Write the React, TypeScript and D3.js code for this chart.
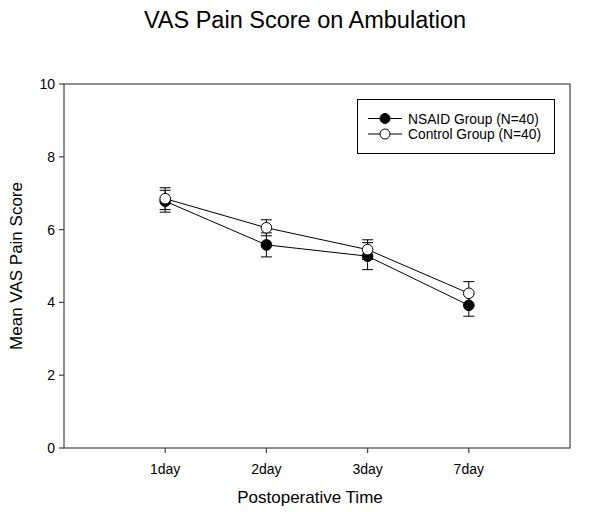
import React from "react";
import * as d3 from "d3";

const categories = ["1day", "2day", "3day", "7day"];
const nsaidMean = [6.78, 5.58, 5.27, 3.92];
const nsaidErr = [0.3, 0.33, 0.37, 0.3];
const controlMean = [6.85, 6.05, 5.45, 4.25];
const controlErr = [0.3, 0.22, 0.27, 0.32];
const yTicks = [0, 2, 4, 6, 8, 10];
const seriesNames = ["NSAID Group (N=40)", "Control Group (N=40)"];

const W = 600, H = 512;
const left = 64, right = 570, top = 84, bottom = 448;
const font = "Arial, 'Liberation Sans', sans-serif";

export default function App() {
  const x = d3.scaleLinear().domain([0, 5]).range([left, right]);
  const y = d3.scaleLinear().domain([0, 10]).range([bottom, top]);
  const line = d3.line<number>().x((_, i) => x(i + 1)).y((d) => y(d));
  const series = [
    { mean: nsaidMean, err: nsaidErr, fill: "#000", name: seriesNames[0] },
    { mean: controlMean, err: controlErr, fill: "#fff", name: seriesNames[1] },
  ];
  const capW = 5.5;
  return (
    <svg width={W} height={H} style={{ position: "absolute", left: 0, top: 0, background: "#fff" }}>
      <rect x={0} y={0} width={W} height={H} fill="#fff" />
      <text x={305} y={28} textAnchor="middle" fontFamily={font} fontSize={23.5} fill="#000">
        VAS Pain Score on Ambulation
      </text>
      <rect x={left} y={top} width={right - left} height={bottom - top} fill="none" stroke="#444" strokeWidth={1.2} />
      {yTicks.map((t) => (
        <g key={t}>
          <line x1={left - 5} x2={left} y1={y(t)} y2={y(t)} stroke="#444" strokeWidth={1.2} />
          <text x={left - 9} y={y(t) + 5} textAnchor="end" fontFamily={font} fontSize={14} fill="#000">{t}</text>
        </g>
      ))}
      {categories.map((c, i) => (
        <g key={c}>
          <line x1={x(i + 1)} x2={x(i + 1)} y1={bottom} y2={bottom + 5} stroke="#444" strokeWidth={1.2} />
          <text x={x(i + 1)} y={bottom + 26} textAnchor="middle" fontFamily={font} fontSize={14} fill="#000">{c}</text>
        </g>
      ))}
      <text x={310} y={503} textAnchor="middle" fontFamily={font} fontSize={17} fill="#000">Postoperative Time</text>
      <text transform={`translate(22,${(top + bottom) / 2}) rotate(-90)`} textAnchor="middle" fontFamily={font} fontSize={17} fill="#000">
        Mean VAS Pain Score
      </text>
      {series.map((s, si) => (
        <g key={si}>
          <path d={line(s.mean) || ""} fill="none" stroke="#000" strokeWidth={1} />
          {s.mean.map((m, i) => {
            const cx = x(i + 1);
            return (
              <g key={i}>
                <line x1={cx} x2={cx} y1={y(m - s.err[i])} y2={y(m + s.err[i])} stroke="#000" strokeWidth={1} />
                <line x1={cx - capW} x2={cx + capW} y1={y(m - s.err[i])} y2={y(m - s.err[i])} stroke="#000" strokeWidth={1} />
                <line x1={cx - capW} x2={cx + capW} y1={y(m + s.err[i])} y2={y(m + s.err[i])} stroke="#000" strokeWidth={1} />
              </g>
            );
          })}
        </g>
      ))}
      {series.map((s, si) => (
        <g key={"m" + si}>
          {s.mean.map((m, i) => (
            <circle key={i} cx={x(i + 1)} cy={y(m)} r={5.3} fill={s.fill} stroke="#000" strokeWidth={1} />
          ))}
        </g>
      ))}
      <rect x={357.5} y={99.5} width={197} height={54} fill="#fff" stroke="#000" strokeWidth={1} />
      {series.map((s, si) => {
        const ly = 118.5 + si * 15.5;
        return (
          <g key={"l" + si}>
            <line x1={368} x2={402} y1={ly} y2={ly} stroke="#000" strokeWidth={1} />
            <circle cx={385} cy={ly} r={5} fill={s.fill} stroke="#000" strokeWidth={1} />
            <text x={408} y={ly + 5} fontFamily={font} fontSize={13.8} fill="#000">{s.name}</text>
          </g>
        );
      })}
    </svg>
  );
}
